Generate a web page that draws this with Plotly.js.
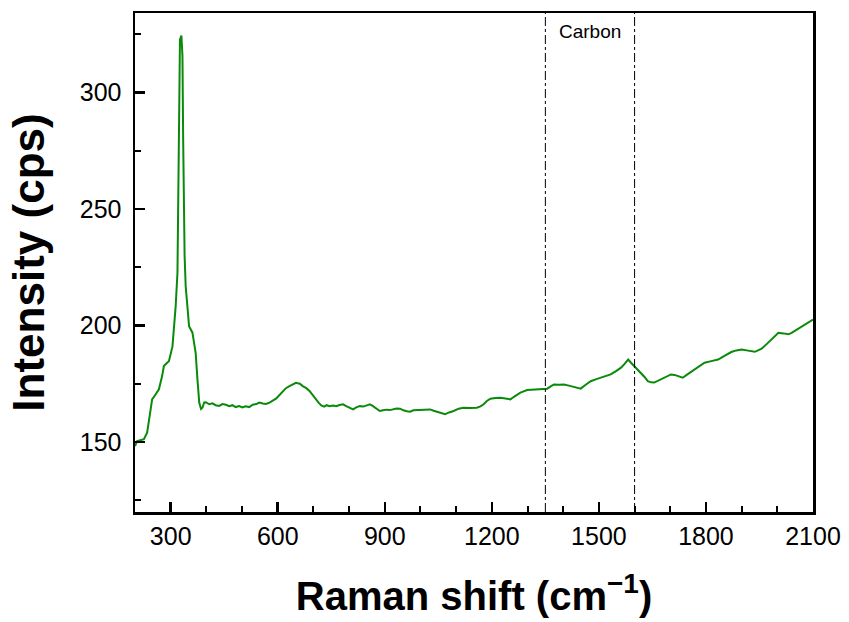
<!DOCTYPE html>
<html>
<head>
<meta charset="utf-8">
<script src="https://cdn.plot.ly/plotly-3.0.1.min.js"></script>
<style>html,body{margin:0;padding:0;background:#fff;}#chart{width:849px;height:622px;}</style>
</head>
<body>
<div id="chart"></div>
<script>
const ramanShift = [200,206,215,225,234,244,248,258,267,276,281,290,295,305,309,314,319,321,323,326,330,333,335,337,339,342,347,351.5,361,366,370,375,380,385,389,394,398.5,408,417,426,436,445,455,464,473,482,492,501,510,520,530,540,548,558,567,577,586,595,605,614,623,633,642,651,656,662,670,680,689,698,708,715,722,730,737,745,755,764,773,783,792,801,811,820,830,840,850,858,866,875,886,895,905,914,924,933,943,952,962,971,980,990,999,1008,1018,1027,1037,1046,1056,1069,1080,1093,1107,1121,1140,1158,1168,1177,1186,1196,1210,1224,1238,1252,1262,1271,1280,1299,1318,1336,1355,1365,1374,1388,1402,1416,1430,1440,1449,1463,1477,1491,1505,1519,1533,1548,1562,1572,1582,1590,1599,1608,1618,1628,1637,1646,1655,1665,1674,1684,1693,1702,1712,1724,1735,1746,1757,1768,1782,1796,1815,1834,1852,1871,1885,1900,1918,1937,1946,1956,1970,1984,1994,2003,2017,2031,2040,2049,2064,2078,2092,2100];
const intensity = [148.3,150.4,150.8,151.2,154,164,168.3,170.5,172.6,178.3,182.6,184,184.7,191,198.3,208.3,222.6,255,302.6,322.6,324.3,315.5,279.7,246.9,230,216.9,206,199.7,196.9,192,188.3,176.9,166.9,164.2,164.7,167,167.1,166.2,166.6,165.8,165.5,166.3,166,165.4,165.8,165.0,165.4,164.8,165.3,165,166,166.3,166.9,166.5,166.3,166.9,167.8,168.6,170.2,171.9,173.1,174,174.6,175.4,175.2,175.0,174,173.1,171.9,170,168.3,166.8,165.7,165.2,165.8,165.4,165.7,165.4,165.9,166.2,165.4,164.6,164,164.9,165.4,165.2,165.9,166.2,165.5,164.4,163.3,163.6,163.9,163.7,164.1,164.4,164.3,163.6,163.2,163,163.6,163.7,163.7,163.9,164.2,164,163.4,162.9,162.4,161.9,162.7,163.3,164.3,164.7,164.6,164.7,165.3,166.2,167.6,168.6,168.9,169,168.7,168.3,169.4,170.4,171.2,172.3,172.6,172.8,172.9,173.9,174.7,174.6,174.7,174.2,173.7,173.3,172.9,174.6,176.1,176.9,177.6,178.2,179,180.4,181.9,183.5,185.4,184,182.6,181.2,179.7,177.9,176.1,175.6,175.5,176.3,176.9,177.6,178.4,179,178.8,178.2,177.6,178.8,180,181.2,182.6,184,184.7,185.4,187,188.6,189.3,189.7,189.2,188.7,189.3,190,192,194,195.5,196.9,196.6,196.2,196.8,197.6,199,200.5,201.7,202.5];
const carbonBand = [1350, 1600];
const carbonLabel = 'Carbon';
const xTitle = 'Raman shift (cm<sup>\u22121</sup>)';
const yTitle = 'Intensity (cps)';

const shapes = carbonBand.map(v => ({
  type: 'line', xref: 'x', yref: 'paper', x0: v, x1: v, y0: 0, y1: 1,
  line: {color: '#000', width: 1, dash: 'dashdot'}
}));

const trace = {
  x: ramanShift, y: intensity, type: 'scatter', mode: 'lines',
  line: {color: '#0a8a0a', width: 2}, hoverinfo: 'skip'
};

const axisCommon = {
  showline: true, linewidth: 2.5, linecolor: '#000', mirror: true,
  ticks: 'inside', ticklen: 10, tickwidth: 2.5, tickcolor: '#000',
  showgrid: false, zeroline: false,
  tickfont: {family: 'Liberation Sans, Arial, sans-serif', size: 25, color: '#000'}
};

const layout = {
  width: 849, height: 622,
  margin: {l: 135, r: 36, t: 13, b: 110},
  paper_bgcolor: '#fff', plot_bgcolor: '#fff',
  showlegend: false,
  xaxis: Object.assign({}, axisCommon, {
    range: [200, 2100], tick0: 0, dtick: 300,
    minor: {dtick: 100, ticks: 'inside', ticklen: 6, tickwidth: 2, tickcolor: '#000'},
    title: {text: xTitle, standoff: 34,
      font: {family: 'Liberation Sans, Arial, sans-serif', size: 40, color: '#000', weight: 'bold'}}
  }),
  yaxis: Object.assign({}, axisCommon, {
    range: [120, 334], tick0: 0, dtick: 50, ticklabelstandoff: 6,
    minor: {dtick: 25, ticks: 'inside', ticklen: 6, tickwidth: 2, tickcolor: '#000'},
    title: {text: yTitle, standoff: 22,
      font: {family: 'Liberation Sans, Arial, sans-serif', size: 44, color: '#000', weight: 'bold'}}
  }),
  shapes: shapes,
  annotations: [{
    x: 1475, y: 326, xref: 'x', yref: 'y', text: carbonLabel, showarrow: false,
    font: {family: 'Liberation Sans, Arial, sans-serif', size: 19, color: '#000'}
  }]
};

Plotly.newPlot('chart', [trace], layout, {displayModeBar: false, staticPlot: true});
</script>
</body>
</html>
